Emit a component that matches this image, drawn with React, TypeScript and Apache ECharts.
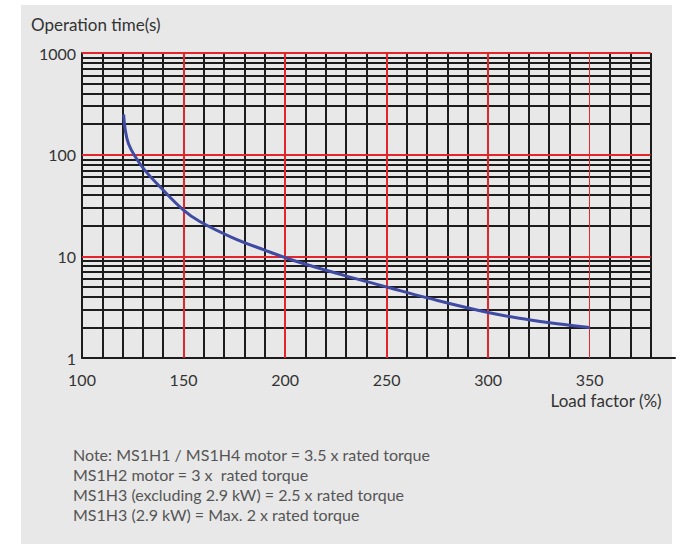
import React, { useEffect, useRef } from 'react';
import * as echarts from 'echarts';

// Curve data (load factor %, operation time s)
const loadFactor = [120.5, 121.3, 122.9, 126, 131, 139, 150, 158, 174, 190, 205, 229, 250, 270, 300, 320, 334, 350];
const opTime = [249, 175, 128, 97, 70, 47, 28.5, 22, 15.3, 11.5, 9.0, 6.5, 5.0, 3.9, 2.8, 2.38, 2.17, 2.0];

// Grid definition
const xGridStart = 100;
const xGridEnd = 380;
const xAxisEnd = 392;
const xMinorLines = [110, 120, 130, 140, 160, 170, 180, 190, 210, 220, 230, 240, 260, 270, 280, 290, 310, 320, 330, 340, 360, 370, 380];
const xMajorLines = [150, 200, 250, 300, 350];
const yMinorLines = [2, 3, 4, 5, 6, 7, 8, 9, 20, 30, 40, 50, 60, 70, 80, 90, 200, 300, 400, 500, 600, 700, 800, 900];
const yMajorLines = [10, 100, 1000];
const xTickLabels = [100, 150, 200, 250, 300, 350];
const yMin = 1;
const yMax = 1000;

const FONT = 'Lato, "Noto Sans", sans-serif';

const noteLines = [
  'Note: MS1H1 / MS1H4 motor = 3.5 x rated torque',
  'MS1H2 motor = 3 x  rated torque',
  'MS1H3 (excluding 2.9 kW) = 2.5 x rated torque',
  'MS1H3 (2.9 kW) = Max. 2 x rated torque',
];

export default function App() {
  const ref = useRef<HTMLDivElement>(null);

  useEffect(() => {
    if (!ref.current) return;
    const chart = echarts.init(ref.current, null, { renderer: 'svg' });

    const vLine = (x: number, extra?: any) => [
      { coord: [x, yMin], ...(extra || {}) },
      { coord: [x, yMax] },
    ];
    const hLine = (y: number) => [
      { coord: [xGridStart, y] },
      { coord: [xGridEnd, y] },
    ];

    const option: any = {
      animation: false,
      backgroundColor: 'transparent',
      textStyle: { fontFamily: FONT },
      grid: { left: 82, right: 8, top: 53, bottom: 186 },
      xAxis: {
        type: 'value',
        min: xGridStart,
        max: xAxisEnd,
        interval: 10,
        axisLine: { show: true, lineStyle: { color: '#1c1c1c', width: 2 } },
        axisTick: { show: false },
        splitLine: { show: false },
        axisLabel: {
          color: '#333',
          fontSize: 16,
          fontFamily: FONT,
          margin: 13,
          showMaxLabel: false,
          formatter: (v: number) => (xTickLabels.indexOf(v) >= 0 ? String(v) : ''),
        },
      },
      yAxis: {
        type: 'log',
        logBase: 10,
        min: yMin,
        max: yMax,
        axisLine: { show: true, lineStyle: { color: '#1c1c1c', width: 2 } },
        axisTick: { show: false },
        splitLine: { show: false },
        minorTick: { show: false },
        axisLabel: {
          color: '#333',
          fontSize: 16,
          fontFamily: FONT,
          margin: 6,
          formatter: (v: number) => String(Math.round(v)),
        },
      },
      graphic: [
        {
          type: 'text',
          left: 31,
          top: 16,
          style: { text: 'Operation time(s)', font: `17px ${FONT}`, fill: '#333' },
        },
        {
          type: 'text',
          right: 21,
          top: 392,
          style: { text: 'Load factor (%)', font: `17px ${FONT}`, fill: '#333' },
        },
        ...noteLines.map((t, i) => ({
          type: 'text',
          left: 73,
          top: 446 + i * 20,
          style: { text: t, font: `16px ${FONT}`, fill: '#555' },
        })),
      ],
      series: [
        {
          type: 'line',
          data: [],
          z: 1,
          silent: true,
          markLine: {
            silent: true,
            symbol: ['none', 'none'],
            label: { show: false },
            emphasis: { disabled: true },
            lineStyle: { color: '#1c1c1c', width: 2, type: 'solid' },
            data: [...xMinorLines.map((x) => vLine(x)), ...yMinorLines.map((y) => hLine(y))],
          },
        },
        {
          type: 'line',
          data: [],
          z: 2,
          silent: true,
          markLine: {
            silent: true,
            symbol: ['none', 'none'],
            label: { show: false },
            emphasis: { disabled: true },
            lineStyle: { color: '#e3262b', width: 2, type: 'solid' },
            data: [
              ...xMajorLines.map((x) => vLine(x, x === 350 ? { lineStyle: { width: 1 } } : undefined)),
              ...yMajorLines.map((y) => hLine(y)),
            ],
          },
        },
        {
          type: 'line',
          z: 10,
          data: loadFactor.map((x, i) => [x, opTime[i]]),
          smooth: 0.4,
          symbol: 'none',
          lineStyle: { color: '#3f4ba3', width: 3 },
          silent: true,
        },
      ],
    };

    chart.setOption(option);
    return () => chart.dispose();
  }, []);

  return (
    <div style={{ position: 'fixed', left: 0, top: 0, width: 683, height: 544, background: '#fff' }}>
      <div style={{ position: 'absolute', left: 21, top: 5, width: 651, height: 539, background: '#e8e8e8' }} />
      <div ref={ref} style={{ position: 'absolute', left: 0, top: 0, width: 683, height: 544 }} />
    </div>
  );
}
